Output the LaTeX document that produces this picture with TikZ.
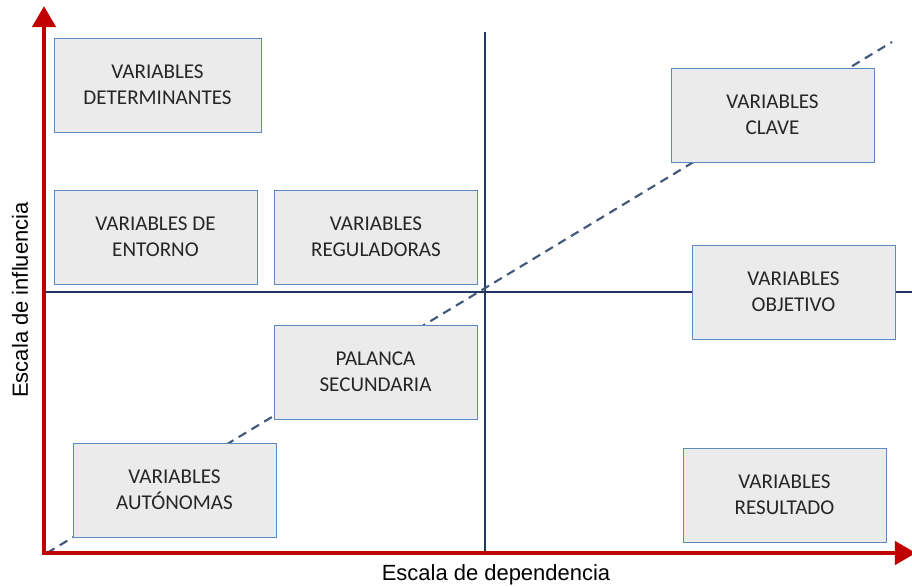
\documentclass[tikz,border=0pt]{standalone}
\usepackage{fontspec}
\setmainfont{Carlito}
\newfontfamily\axisfont{Liberation Sans}
\usepackage{tikz}
\usetikzlibrary{arrows.meta}
\usetikzlibrary{positioning}
\definecolor{axisred}{HTML}{C00000}
\definecolor{gridnavy}{HTML}{1F3864}
\definecolor{boxfill}{HTML}{EBEBEB}
\definecolor{boxline}{HTML}{5B8AC0}
\tikzset{
    axis/.style={draw=axisred, line width=2.8pt,
        {Triangle[width=13pt,length=12pt]}-{Triangle[width=13pt,length=12pt]}},
    quadline/.style={draw=gridnavy, line width=0.9pt},
    diagline/.style={draw=gridnavy!85, line width=1.2pt, dash pattern=on 5pt off 3.5pt},
    varbox/.style={draw=boxline, fill=boxfill, line width=0.45pt,
        minimum width=4.06cm, minimum height=1.88cm, align=center,
        font=\fontsize{12}{14.6}\selectfont, text=black!85},
    axislabel/.style={font=\axisfont\fontsize{12.5}{14}\selectfont},
}
\begin{document}
\begin{tikzpicture}[x=0.02cm, y=-0.02cm]
\useasboundingbox (0,0) rectangle (912,587);

%AXES
\coordinate (origin) at (44,553);
\coordinate (ytop) at (44,6);
\coordinate (xend) at (916,553);
\coordinate (vtop) at (485,32);
\coordinate (vbot) at (485,553);
\coordinate (hleft) at (44,292);
\coordinate (hright) at (912,292);
\coordinate (dstart) at (47,553);
\coordinate (dend) at (892,42);

\draw [quadline] (vtop)--(vbot);
\draw [quadline] (hleft)--(hright);
\draw [diagline] (dstart)--(dend);
\draw [axis] (ytop)--(origin)--(xend);

\node [axislabel, rotate=90] (influencia) at (20,300) {Escala de influencia};
\node [axislabel] (dependencia) at (496,575) {Escala de dependencia};

%BOXES
\node [varbox, minimum width=4.14cm] (determinantes) at (157.5,85) {VARIABLES\\DETERMINANTES};
\node [varbox] (clave) at (772.5,115) {VARIABLES\\CLAVE};
\node [varbox] (entorno) at (155.5,237) {VARIABLES DE\\ENTORNO};
\node [varbox] (reguladoras) at (376,237) {VARIABLES\\REGULADORAS};
\node [varbox] (objetivo) at (793.5,292) {VARIABLES\\OBJETIVO};
\node [varbox] (palanca) at (375.5,372) {PALANCA\\SECUNDARIA};
\node [varbox] (autonomas) at (174.5,490) {VARIABLES\\AUTÓNOMAS};
\node [varbox] (resultado) at (784.5,495) {VARIABLES\\RESULTADO};
\end{tikzpicture}
\end{document}
